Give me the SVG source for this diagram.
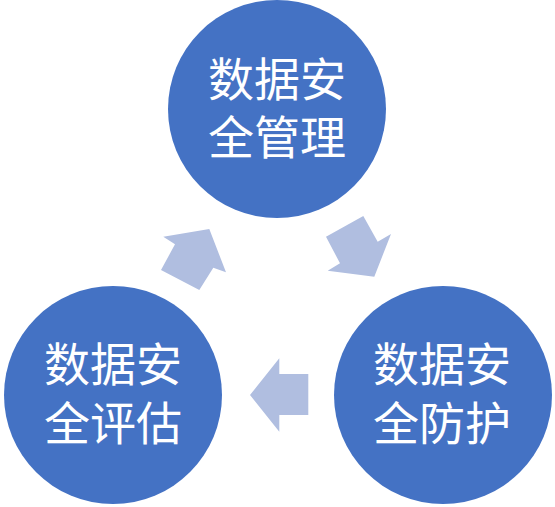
<svg xmlns="http://www.w3.org/2000/svg" width="555" height="507" viewBox="0 0 555 507">
<style>
.node circle{fill:#4472C4;}
.node text{fill:#ffffff;font-family:"Noto Sans CJK SC","Noto Sans",sans-serif;font-size:46px;text-anchor:middle;}
.arrow{fill:#B0BEE0;}
</style>
<rect width="555" height="507" fill="#ffffff"/>
<g id="connectors">
<polygon class="arrow" points="209.3,229 163.3,236.7 175,244.3 161,270 199.3,290 213.3,267.7 226,272.3"/>
<polygon class="arrow" points="363.3,216 377.7,241.7 391,234 374.3,276.7 327.7,270.7 340,263.3 326,236.7"/>
<polygon class="arrow" points="250,395 279.3,358.3 279.3,374 308.3,374 308.3,415 279.3,415 279.3,431.7"/>
</g>
<g id="node-management" class="node">
<circle cx="277" cy="109" r="109"/>
<text x="277" y="96">数据安<tspan x="277" y="154">全管理</tspan></text>
</g>
<g id="node-assessment" class="node">
<circle cx="113" cy="395" r="109"/>
<text x="113" y="381">数据安<tspan x="113" y="440">全评估</tspan></text>
</g>
<g id="node-protection" class="node">
<circle cx="443" cy="395" r="109"/>
<text x="442" y="381">数据安<tspan x="442" y="440">全防护</tspan></text>
</g>
</svg>
